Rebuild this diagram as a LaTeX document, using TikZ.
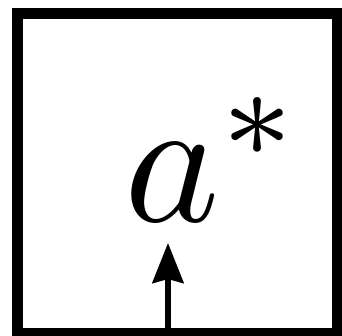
\documentclass[tikz,border=0pt]{standalone}
\usetikzlibrary{arrows.meta}
\begin{document}
\begin{tikzpicture}[x=1pt,y=-1pt,
  framebox/.style={draw=black, line width=11pt, minimum width=320pt, minimum height=320pt, inner sep=0pt},
  bigmath/.style={inner sep=0pt, scale=18.1, anchor=base},
  upconn/.style={line width=6pt, -{Stealth[length=40pt, width=31pt, inset=4pt]}}]
\useasboundingbox (0,0) rectangle (342,336);
\node[framebox] (box) at (177.5,173.5) {};
\node[bigmath] (t) at (214,222) {$a^*$};
\coordinate (foot) at (168,333.5);
\coordinate (tip) at (168,243);
\draw[upconn] (foot) -- (tip);
\end{tikzpicture}
\end{document}
